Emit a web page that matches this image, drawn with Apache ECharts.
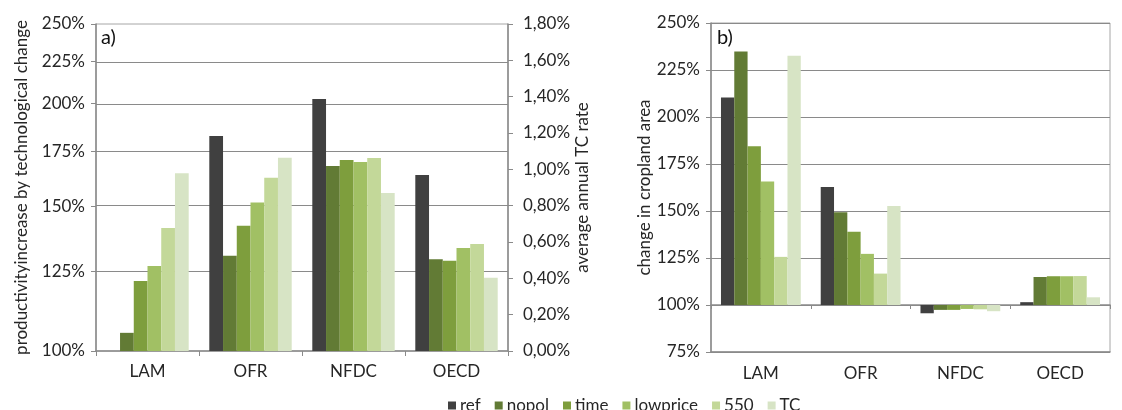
<!DOCTYPE html>
<html>
<head>
<meta charset="utf-8">
<script src="https://cdn.jsdelivr.net/npm/echarts@6/dist/echarts.min.js"></script>
<style>
  html, body { margin: 0; padding: 0; background: #fff; }
  #chart { width: 1122px; height: 410px; }
</style>
</head>
<body>
<div id="chart"></div>
<script>
// Regions on the category axis
const regions = ['LAM', 'OFR', 'NFDC', 'OECD'];
// Scenarios shown as grouped bars
const scenarios = ['ref', 'nopol', 'time', 'lowprice', '550', 'TC'];

// a) average annual TC rate, % per year
const tcRef      = [0,     1.183, 1.387, 0.969];
const tcNopol    = [0.100, 0.525, 1.018, 0.505];
const tcTime     = [0.385, 0.690, 1.051, 0.497];
const tcLowprice = [0.468, 0.818, 1.040, 0.567];
const tc550      = [0.677, 0.954, 1.062, 0.589];
const tcTC       = [0.978, 1.064, 0.870, 0.403];

// b) change in cropland area, % of base year
const cropRef      = [210.4, 162.8, 95.6, 101.5];
const cropNopol    = [234.9, 149.4, 97.4, 114.9];
const cropTime     = [184.5, 139.0, 97.4, 115.3];
const cropLowprice = [165.7, 127.2, 97.9, 115.3];
const crop550      = [125.6, 116.7, 97.7, 115.4];
const cropTC       = [232.6, 152.7, 96.7, 104.1];

// left-hand tick labels of panel a (productivity increase, %)
const productivityTicks = [100, 125, 150, 175, 200, 225, 250];
// right-hand ticks of panel a (TC rate range, %)
const rateMax = 1.8;
const rateStep = 0.2;
// panel b value ticks (%)
const cropMin = 75, cropMax = 250, cropStep = 25, cropBase = 100;

const palette = ['#404040', '#627b35', '#7e9e3d', '#a1c064', '#c3d899', '#d7e4c5'];
const FONT = 'Lato, "Open Sans", sans-serif';
const FS = 17;
const TXT = '#262626';
const AXIS = '#8a8a8a';

const tcSeries = [tcRef, tcNopol, tcTime, tcLowprice, tc550, tcTC];
const cropSeries = [cropRef, cropNopol, cropTime, cropLowprice, crop550, cropTC];

// The productivity scale is logarithmic and shares its ends with the rate axis:
// 100% sits at 0 and 250% at the top of the rate axis.
const topProd = productivityTicks[productivityTicks.length - 1] / 100;
const prodToRate = p => Math.log(p / 100) / Math.log(topProd) * rateMax;
const rateToProd = r => Math.round(Math.exp(r / rateMax * Math.log(topProd)) * 100);
const prodTickPos = productivityTicks.map(prodToRate);

const chart = echarts.init(document.getElementById('chart'), null, { renderer: 'canvas' });

const series = [];
scenarios.forEach((name, i) => {
  series.push({
    name, type: 'bar', xAxisIndex: 0, yAxisIndex: 1,
    data: tcSeries[i], barGap: '0%', barCategoryGap: '20%',
    itemStyle: { color: palette[i] }, z: 3
  });
});
scenarios.forEach((name, i) => {
  series.push({
    name, type: 'bar', xAxisIndex: 2, yAxisIndex: 2,
    data: cropSeries[i].map(v => v - cropBase), barGap: '0%', barCategoryGap: '20%',
    itemStyle: { color: palette[i] }, z: 3
  });
});
// horizontal grid lines of panel a, placed at the productivity ticks
series.push({
  type: 'line', xAxisIndex: 0, yAxisIndex: 0, data: [], silent: true, z: 1,
  markLine: {
    silent: true, symbol: 'none', z: 1, label: { show: false },
    lineStyle: { color: AXIS, width: 1, type: 'solid' },
    data: prodTickPos.slice(1, -1).map(v => ({ yAxis: v }))
  }
});

const labelStyle = { fontFamily: FONT, fontSize: FS, color: TXT };

const option = {
  animation: false,
  textStyle: { fontFamily: FONT },
  grid: [
    { left: 96, top: 24, width: 412, height: 327, show: true, borderColor: '#a6a6a6', borderWidth: 1, backgroundColor: 'transparent' },
    { left: 711, top: 23, width: 399, height: 329, show: true, borderColor: '#a6a6a6', borderWidth: 1, backgroundColor: 'transparent' }
  ],
  legend: {
    data: scenarios, left: 443, top: 392, itemWidth: 8, itemHeight: 8, itemGap: 14,
    icon: 'rect', textStyle: { fontFamily: FONT, fontSize: FS, color: TXT, padding: [0, 0, 0, -1] }
  },
  xAxis: [
    { type: 'category', gridIndex: 0, data: regions,
      axisLine: { lineStyle: { color: AXIS, width: 1.5 } },
      axisTick: { show: true, length: 5, lineStyle: { color: AXIS } },
      axisLabel: Object.assign({ margin: 12 }, labelStyle) },
    { type: 'category', gridIndex: 1, data: regions, position: 'bottom',
      axisLine: { show: true, onZero: false, lineStyle: { color: AXIS, width: 1.5 } },
      axisTick: { show: false },
      axisLabel: Object.assign({ margin: 13 }, labelStyle) },
    { type: 'category', gridIndex: 1, data: regions, position: 'bottom',
      axisLine: { show: true, onZero: true, lineStyle: { color: AXIS, width: 1.5 } },
      axisTick: { show: true, length: 4, lineStyle: { color: AXIS } },
      axisLabel: { show: false } }
  ],
  yAxis: [
    { type: 'value', gridIndex: 0, position: 'left', min: 0, max: rateMax,
      name: 'productivityincrease by technological change', nameLocation: 'middle', nameRotate: 90, nameGap: 66,
      nameTextStyle: labelStyle,
      axisLine: { show: true, lineStyle: { color: AXIS, width: 1.5 } },
      axisTick: { show: true, length: 5, customValues: prodTickPos, lineStyle: { color: AXIS } },
      axisLabel: Object.assign({ margin: 11, customValues: prodTickPos,
                   formatter: v => rateToProd(v) + '%' }, labelStyle),
      splitLine: { show: false } },
    { type: 'value', gridIndex: 0, position: 'right', min: 0, max: rateMax, interval: rateStep,
      name: 'average annual TC rate', nameLocation: 'middle', nameRotate: 90, nameGap: 66,
      nameTextStyle: labelStyle,
      axisLine: { show: true, lineStyle: { color: AXIS, width: 1.5 } },
      axisTick: { show: true, length: 5, lineStyle: { color: AXIS } },
      axisLabel: Object.assign({ margin: 15,
                   formatter: v => v.toFixed(2).replace('.', ',') + '%' }, labelStyle),
      splitLine: { show: false } },
    { type: 'value', gridIndex: 1, min: cropMin - cropBase, max: cropMax - cropBase, interval: cropStep,
      name: 'change in cropland area', nameLocation: 'middle', nameRotate: 90, nameGap: 57,
      nameTextStyle: labelStyle,
      axisLine: { show: true, lineStyle: { color: AXIS, width: 1.5 } },
      axisTick: { show: true, length: 5, lineStyle: { color: AXIS } },
      axisLabel: Object.assign({ margin: 11,
                   formatter: v => (v + cropBase) + '%' }, labelStyle),
      splitLine: { show: true, lineStyle: { color: AXIS, width: 1 } } }
  ],
  graphic: [
    { type: 'text', left: 101, top: 28, style: { text: 'a)', fontFamily: FONT, fontSize: 20, fill: '#111' } },
    { type: 'text', left: 717, top: 28, style: { text: 'b)', fontFamily: FONT, fontSize: 20, fill: '#111' } }
  ],
  series
};
chart.setOption(option);
</script>
</body>
</html>
